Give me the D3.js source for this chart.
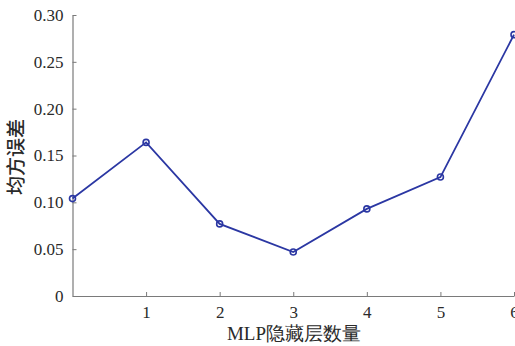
<!DOCTYPE html>
<html>
<head>
<meta charset="utf-8">
<script src="https://cdn.jsdelivr.net/npm/d3@7"></script>
<style>
  html, body { margin: 0; padding: 0; background: #fff; }
  svg { display: block; }
</style>
</head>
<body>
<svg id="chart" width="515" height="346"></svg>
<script>
// Hidden layer count vs. mean squared error
const layers = [0, 1, 2, 3, 4, 5, 6];
const mse = [0.104, 0.164, 0.077, 0.047, 0.093, 0.127, 0.279];
const yTicks = [0, 0.05, 0.10, 0.15, 0.20, 0.25, 0.30];
const xTicks = [1, 2, 3, 4, 5, 6];
const xTitle = "MLP隐藏层数量";
const yTitle = "均方误差";

(function () {
  const svg = d3.select("#chart");
  const plotLeft = 72.5, plotRight = 514, plotTop = 15, plotBottom = 296;

  const x = d3.scaleLinear().domain([0, 6]).range([plotLeft, plotRight]);
  const y = d3.scaleLinear().domain([0, 0.30]).range([plotBottom, plotTop]);

  const axisColor = "#7a7a7a";
  const textColor = "#2a2a2a";
  const serif = "'Liberation Serif', 'Times New Roman', serif";
  const cjk = "'Noto Sans CJK SC', sans-serif";

  // y axis, ticks pointing into the plot
  const yAxis = svg.append("g")
    .attr("transform", `translate(${plotLeft},0)`)
    .call(d3.axisLeft(y).tickValues(yTicks)
      .tickFormat(d => d === 0 ? "0" : d3.format(".2f")(d))
      .tickSizeInner(-4).tickSizeOuter(0).tickPadding(9));

  // x axis
  const xAxis = svg.append("g")
    .attr("transform", `translate(0,${plotBottom})`)
    .call(d3.axisBottom(x).tickValues(xTicks).tickFormat(d3.format("d"))
      .tickSizeInner(-4).tickSizeOuter(0).tickPadding(10));

  [yAxis, xAxis].forEach(g => {
    g.select(".domain").attr("stroke", axisColor).attr("stroke-width", 1.2);
    g.selectAll(".tick line").attr("stroke", axisColor).attr("stroke-width", 1);
    g.selectAll(".tick text")
      .attr("fill", textColor)
      .style("font-family", serif)
      .style("font-size", "17px");
  });

  // series line
  const lineColor = "#2b37a3";
  const pts = layers.map((d, i) => [d, mse[i]]);
  svg.append("path")
    .datum(pts)
    .attr("fill", "none")
    .attr("stroke", lineColor)
    .attr("stroke-width", 1.8)
    .attr("d", d3.line().x(d => x(d[0])).y(d => y(d[1])));

  // open circle markers
  svg.selectAll("circle.pt")
    .data(pts)
    .join("circle")
    .attr("class", "pt")
    .attr("cx", d => x(d[0]))
    .attr("cy", d => y(d[1]))
    .attr("r", 3)
    .attr("fill", "none")
    .attr("stroke", lineColor)
    .attr("stroke-width", 1.6);

  // axis titles
  svg.append("text")
    .attr("x", 294).attr("y", 340)
    .attr("text-anchor", "middle")
    .attr("fill", textColor)
    .style("font-family", serif)
    .style("font-size", "19px")
    .text(xTitle);

  svg.append("text")
    .attr("transform", "translate(23,157) rotate(-90)")
    .attr("text-anchor", "middle")
    .attr("fill", textColor)
    .style("font-family", cjk)
    .style("font-size", "19px")
    .style("font-weight", "500")
    .text(yTitle);
})();
</script>
</body>
</html>
